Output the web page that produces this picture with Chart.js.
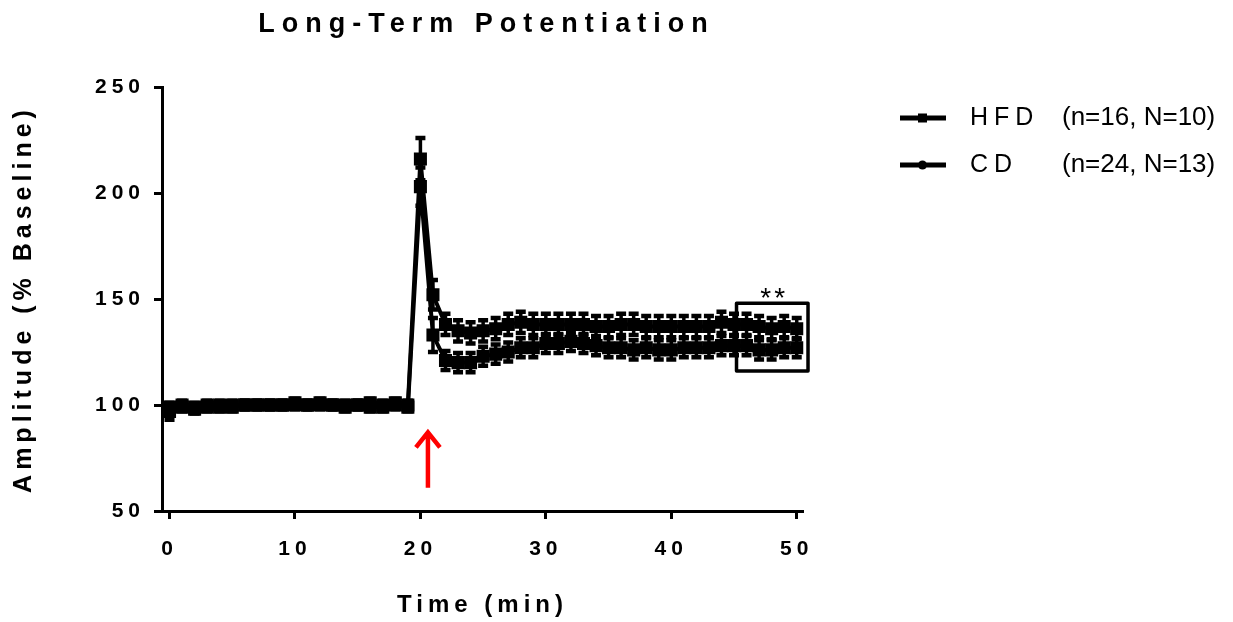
<!DOCTYPE html>
<html>
<head>
<meta charset="utf-8">
<script src="https://cdn.jsdelivr.net/npm/chart.js@4/dist/chart.umd.min.js"></script>
<style>
  html, body { margin: 0; padding: 0; background: #fff; }
  #wrap { width: 1233px; height: 622px; }
</style>
</head>
<body>
<div id="wrap"><canvas id="ltpChart"></canvas></div>
<script>
// --- LTP time course: HFD vs CD, mean ± SEM per minute ---
const minutes = [0, 1, 2, 3, 4, 5, 6, 7, 8, 9, 10, 11, 12, 13, 14, 15, 16, 17, 18, 19,
    20, 21, 22, 23, 24, 25, 26, 27, 28, 29, 30, 31, 32, 33, 34, 35, 36, 37, 38, 39,
    40, 41, 42, 43, 44, 45, 46, 47, 48, 49, 50];

const cdMean = [99, 100, 99, 100, 100, 100, 100, 100, 100, 100, 101, 100, 101, 100, 100, 100, 101, 100, 101, 100,
    216, 152, 138, 135, 134, 135, 136, 138, 139, 138, 138, 138, 138, 138, 137, 137, 138, 138, 137, 137,
    137, 137, 137, 137, 139, 138, 138, 137, 136, 137, 136];
const cdSem = [2, 2, 2, 2, 2, 2, 2, 2, 2, 2, 2, 2, 2, 2, 2, 2, 2, 2, 2, 2,
    10, 7, 5, 5, 5, 5, 5, 5, 5, 5, 5, 5, 5, 5, 5, 5, 5, 5, 5, 5,
    5, 5, 5, 5, 5, 5, 5, 5, 5, 5, 5];

const hfdMean = [97, 99, 98, 99, 99, 99, 100, 100, 100, 100, 100, 100, 100, 100, 99, 100, 99, 99, 100, 99,
    203, 133, 121, 120, 120, 123, 124, 125, 127, 127, 129, 129, 130, 129, 128, 127, 127, 126, 127, 126,
    126, 127, 127, 127, 128, 128, 128, 126, 126, 127, 127];
const hfdSem = [4, 2, 2, 2, 2, 2, 2, 2, 2, 2, 2, 2, 2, 2, 2, 2, 2, 2, 2, 2,
    9, 8, 4.5, 4.5, 4.5, 4.5, 4.5, 4.5, 4.5, 4.5, 4.5, 4.5, 4.5, 4.5, 4.5, 4.5, 4.5, 4.5, 4.5, 4.5,
    4.5, 4.5, 4.5, 4.5, 4.5, 4.5, 4.5, 4.5, 4.5, 4.5, 4.5];

const groupNames = ['HFD', 'CD'];
const groupNotes = ['(n=16, N=10)', '(n=24, N=13)'];
const xTicks = [0, 10, 20, 30, 40, 50];
const yTicks = [50, 100, 150, 200, 250];

// HFS marker (arrow) and the significance box over the last minutes
const hfsAt = 20.6, hfsFrom = 61, hfsTo = 88;
const sigBox = { x0: 45.2, x1: 50.9, y0: 116, y1: 148, label: '**' };

const FONT = '"Liberation Sans", Arial, sans-serif';

function toPoints(means) {
    return minutes.map((t, i) => ({ x: t, y: means[i] }));
}

// error bars, drawn through the chart's own scales
const errorBars = {
    id: 'errorBars',
    afterDatasetsDraw(chart) {
        const ctx = chart.ctx;
        const yScale = chart.scales.y;
        chart.data.datasets.forEach((ds, i) => {
            const meta = chart.getDatasetMeta(i);
            ctx.save();
            ctx.strokeStyle = '#000';
            meta.data.forEach((pt, j) => {
                const top = yScale.getPixelForValue(ds.means[j] + ds.sems[j]);
                const bot = yScale.getPixelForValue(ds.means[j] - ds.sems[j]);
                ctx.lineWidth = 3.5;
                ctx.beginPath();
                ctx.moveTo(pt.x, top); ctx.lineTo(pt.x, bot);
                ctx.stroke();
                ctx.lineWidth = 4.5;
                ctx.beginPath();
                ctx.moveTo(pt.x - 5, top); ctx.lineTo(pt.x + 5, top);
                ctx.moveTo(pt.x - 5, bot); ctx.lineTo(pt.x + 5, bot);
                ctx.stroke();
            });
            ctx.restore();
        });
    }
};

// title, arrow, significance box and legend
const extras = {
    id: 'extras',
    beforeDraw(chart) {
        chart.ctx.letterSpacing = '5px';
    },
    afterDraw(chart) {
        const ctx = chart.ctx;
        const { x, y } = chart.scales;
        const area = chart.chartArea;
        ctx.save();

        // title
        ctx.fillStyle = '#000';
        ctx.font = 'bold 27px ' + FONT;
        ctx.letterSpacing = '7px';
        ctx.textAlign = 'center';
        ctx.textBaseline = 'middle';
        ctx.fillText('Long-Term Potentiation', (area.left + area.right) / 2 + 4, 25);

        // red arrow at HFS
        const ax = x.getPixelForValue(hfsAt);
        const aTop = y.getPixelForValue(hfsTo);
        const aBot = y.getPixelForValue(hfsFrom);
        ctx.strokeStyle = '#ff0000';
        ctx.lineWidth = 4.5;
        ctx.lineCap = 'butt';
        ctx.lineJoin = 'miter';
        ctx.beginPath();
        ctx.moveTo(ax, aBot); ctx.lineTo(ax, aTop + 2);
        ctx.moveTo(ax - 12, aTop + 17); ctx.lineTo(ax, aTop + 2); ctx.lineTo(ax + 12, aTop + 17);
        ctx.stroke();

        // significance box
        const bx0 = x.getPixelForValue(sigBox.x0), bx1 = x.getPixelForValue(sigBox.x1);
        const by0 = y.getPixelForValue(sigBox.y1), by1 = y.getPixelForValue(sigBox.y0);
        ctx.strokeStyle = '#000';
        ctx.lineWidth = 3.5;
        ctx.lineJoin = 'round';
        ctx.strokeRect(bx0, by0, bx1 - bx0, by1 - by0);
        ctx.font = '28px ' + FONT;
        ctx.letterSpacing = '3px';
        ctx.textBaseline = 'alphabetic';
        ctx.fillText(sigBox.label, (bx0 + bx1) / 2 + 2, by0 + 4);

        // legend
        const rows = [118, 165];
        chart.data.datasets.forEach((ds, i) => {
            const ry = rows[i];
            ctx.strokeStyle = '#000';
            ctx.lineWidth = 5;
            ctx.lineCap = 'butt';
            ctx.beginPath();
            ctx.moveTo(900, ry); ctx.lineTo(946, ry);
            ctx.stroke();
            ctx.fillStyle = '#000';
            if (ds.legendStyle === 'rect') {
                ctx.fillRect(918, ry - 4.5, 9, 9);
            } else {
                ctx.beginPath();
                ctx.arc(922.5, ry, 4.5, 0, Math.PI * 2);
                ctx.fill();
            }
            ctx.textAlign = 'left';
            ctx.textBaseline = 'middle';
            ctx.font = '25px ' + FONT;
            ctx.letterSpacing = '6px';
            ctx.fillText(groupNames[i], 970, ry);
            ctx.letterSpacing = '0px';
            ctx.font = '26px ' + FONT;
            ctx.fillText(groupNotes[i], 1062, ry);
        });
        ctx.restore();
    }
};

new Chart(document.getElementById('ltpChart'), {
    type: 'line',
    data: {
        datasets: [
            {
                label: groupNames[0],
                data: toPoints(hfdMean),
                means: hfdMean, sems: hfdSem, legendStyle: 'rect',
                borderColor: '#000', backgroundColor: '#000',
                borderWidth: 4, tension: 0,
                pointStyle: 'rect', pointRadius: 6.4, pointHoverRadius: 6.4,
                clip: false
            },
            {
                label: groupNames[1],
                data: toPoints(cdMean),
                means: cdMean, sems: cdSem, legendStyle: 'circle',
                borderColor: '#000', backgroundColor: '#000',
                borderWidth: 4, tension: 0,
                pointStyle: 'rect', pointRadius: 6.4, pointHoverRadius: 6.4,
                clip: false
            }
        ]
    },
    options: {
        responsive: true,
        maintainAspectRatio: false,
        animation: false,
        layout: { padding: { top: 87, right: 430, left: 0, bottom: 0 } },
        plugins: { legend: { display: false }, title: { display: false }, tooltip: { enabled: false } },
        scales: {
            x: {
                type: 'linear',
                min: -0.6, max: 50.5,
                afterBuildTicks: s => { s.ticks = xTicks.map(v => ({ value: v })); },
                afterFit: s => { s.height = 111; },
                grid: { drawOnChartArea: false, drawTicks: true, tickLength: 8, tickWidth: 3, tickColor: '#000' },
                border: { display: true, color: '#000', width: 3 },
                ticks: { color: '#000', padding: 18, maxRotation: 0, font: { family: FONT, weight: 'bold', size: 21 } },
                title: {
                    display: true, text: 'Time (min)', color: '#000',
                    font: { family: FONT, weight: 'bold', size: 24 },
                    padding: { top: 0, bottom: 2 }
                }
            },
            y: {
                type: 'linear',
                min: 50, max: 250,
                afterBuildTicks: s => { s.ticks = yTicks.map(v => ({ value: v })); },
                afterFit: s => { s.width = 162; },
                grid: { drawOnChartArea: false, drawTicks: true, tickLength: 8, tickWidth: 3, tickColor: '#000' },
                border: { display: true, color: '#000', width: 3 },
                ticks: { color: '#000', padding: 9, font: { family: FONT, weight: 'bold', size: 21 } },
                title: {
                    display: true, text: 'Amplitude (% Baseline)', color: '#000',
                    font: { family: FONT, weight: 'bold', size: 25 },
                    padding: { top: 9, bottom: 0 }
                }
            }
        }
    },
    plugins: [errorBars, extras]
});
</script>
</body>
</html>
